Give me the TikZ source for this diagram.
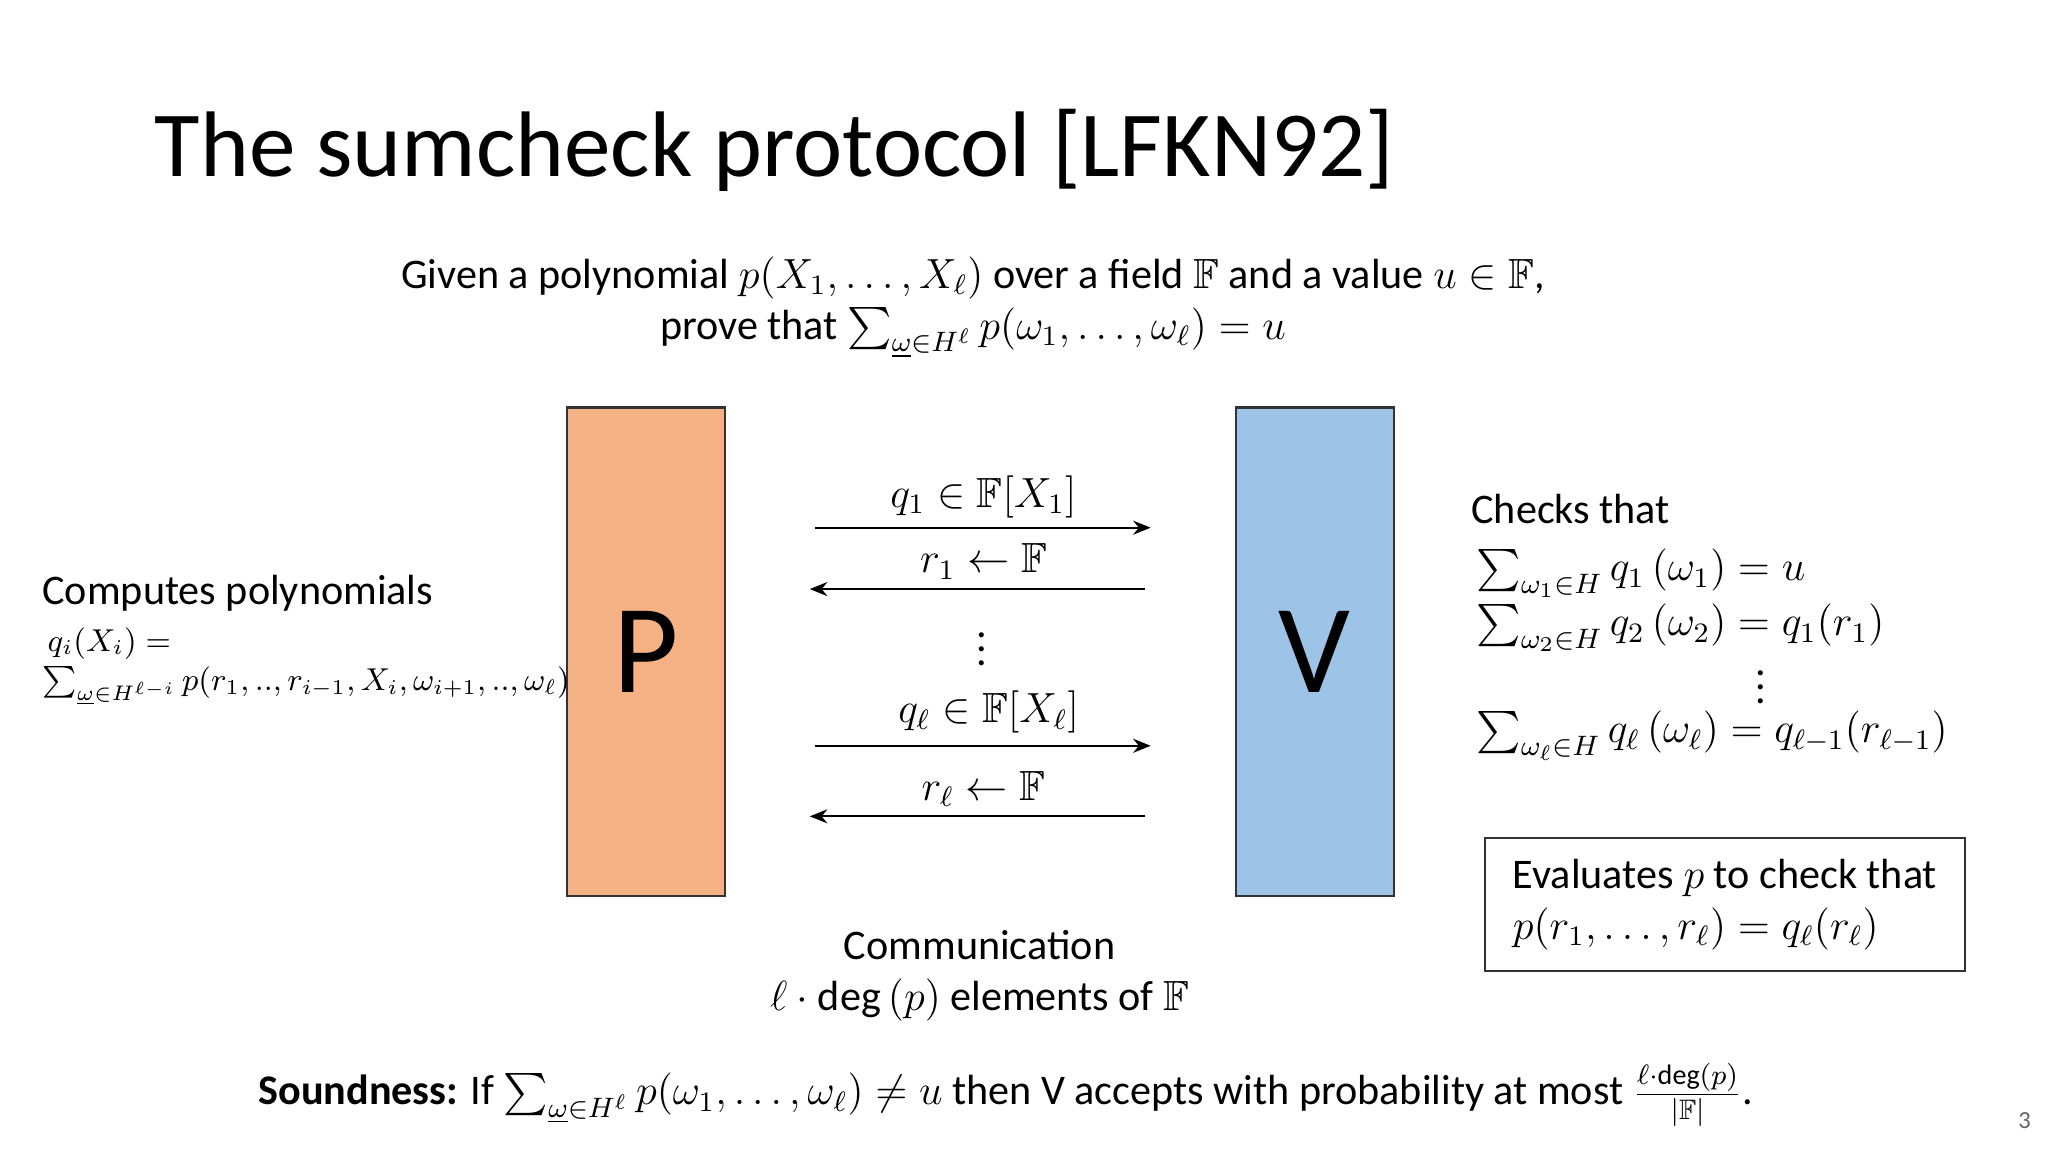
\documentclass[tikz,border=0pt]{standalone}
\usepackage{amsmath,amssymb}
\usepackage{fontspec}
\setmainfont{Carlito}
\usetikzlibrary{arrows.meta}
\begin{document}
\begin{tikzpicture}[x=0.013061cm,y=-0.013061cm,
  txt/.style={font=\fontsize{12}{14.5}\selectfont, inner sep=0pt},
  party/.style={draw=black!80, line width=0.6pt, minimum width=121*0.013061cm, minimum height=374*0.013061cm, font=\fontsize{36}{40}\selectfont},
  msg/.style={-{Stealth[length=5pt,width=4pt]}, line width=0.6pt}]
\useasboundingbox (0,0) rectangle (1568,882);
\node[anchor=base west, inner sep=0pt, font=\fontsize{26.5}{30}\selectfont] (title) at (118,135) {The sumcheck protocol [LFKN92]};
\node[txt, align=center, anchor=north] (given) at (745,196) {Given a polynomial $p(X_1,\ldots,X_\ell)$ over a field $\mathbb{F}$ and a value $u\in\mathbb{F}$,\\ prove that $\sum_{\underline{\omega}\in H^\ell} p(\omega_1,\ldots,\omega_\ell)=u$};
\node[party, fill={rgb,255:red,244;green,177;blue,131}] (P) at (494.5,499) {P};
\node[party, fill={rgb,255:red,157;green,195;blue,230}] (V) at (1006.5,499) {V};
\coordinate (a1s) at (624,404); \coordinate (a1e) at (881,404);
\coordinate (a2s) at (877,451); \coordinate (a2e) at (620,451);
\coordinate (a3s) at (624,571); \coordinate (a3e) at (881,571);
\coordinate (a4s) at (877,625); \coordinate (a4e) at (620,625);
\draw[msg] (a1s) -- (a1e);
\draw[msg] (a2s) -- (a2e);
\draw[msg] (a3s) -- (a3e);
\draw[msg] (a4s) -- (a4e);
\node[txt, anchor=south] (m1) at (753,397) {$q_1\in\mathbb{F}[X_1]$};
\node[txt, anchor=south] (m2) at (753,444) {$r_1\leftarrow\mathbb{F}$};
\node[txt] (md) at (752,489) {$\vdots$};
\node[txt, anchor=south] (m3) at (757,562) {$q_\ell\in\mathbb{F}[X_\ell]$};
\node[txt, anchor=south] (m4) at (753,618) {$r_\ell\leftarrow\mathbb{F}$};
\node[txt, align=left, anchor=north west] (comp) at (32,440) {Computes polynomials};
\node[txt, anchor=north west, font=\fontsize{9}{11}\selectfont] (qi) at (36,480) {$q_i(X_i)=$};
\node[txt, anchor=north west, font=\fontsize{9}{11}\selectfont] (qs) at (32,510) {$\sum_{\underline{\omega}\in H^{\ell-i}} p(r_1,..,r_{i-1},X_i,\omega_{i+1},..,\omega_\ell)$};
\node[txt, anchor=north west] (ch) at (1126,378) {Checks that};
\node[txt, anchor=north west] (c1) at (1130,420) {$\sum_{\omega_1\in H} q_1\,(\omega_1)=u$};
\node[txt, anchor=north west] (c2) at (1130,462) {$\sum_{\omega_2\in H} q_2\,(\omega_2)=q_1(r_1)$};
\node[txt] (cd) at (1348,518) {$\vdots$};
\node[txt, anchor=north west] (c3) at (1130,544) {$\sum_{\omega_\ell\in H} q_\ell\,(\omega_\ell)=q_{\ell-1}(r_{\ell-1})$};
\node[txt, draw=black!80, line width=0.6pt, align=left, anchor=north west, inner xsep=8pt, inner ysep=6pt, minimum width=366*0.013061cm, minimum height=90*0.013061cm] (ev) at (1136,641) {Evaluates $p$ to check that\\ $p(r_1,\ldots,r_\ell)=q_\ell(r_\ell)$};
\node[txt, align=center, anchor=north] (comm) at (750,712) {Communication\\ $\ell\cdot\deg\,(p)$ elements of $\mathbb{F}$};
\node[txt, anchor=base] (snd) at (770,846) {\textbf{Soundness:} If $\sum_{\underline{\omega}\in H^\ell} p(\omega_1,\ldots,\omega_\ell)\neq u$ then V accepts with probability at most $\frac{\ell\cdot\deg(p)}{|\mathbb{F}|}$.};
\node[anchor=base, inner sep=0pt, font=\fontsize{7}{8}\selectfont, text=black!60] (pg) at (1550,864) {3};
\end{tikzpicture}
\end{document}
